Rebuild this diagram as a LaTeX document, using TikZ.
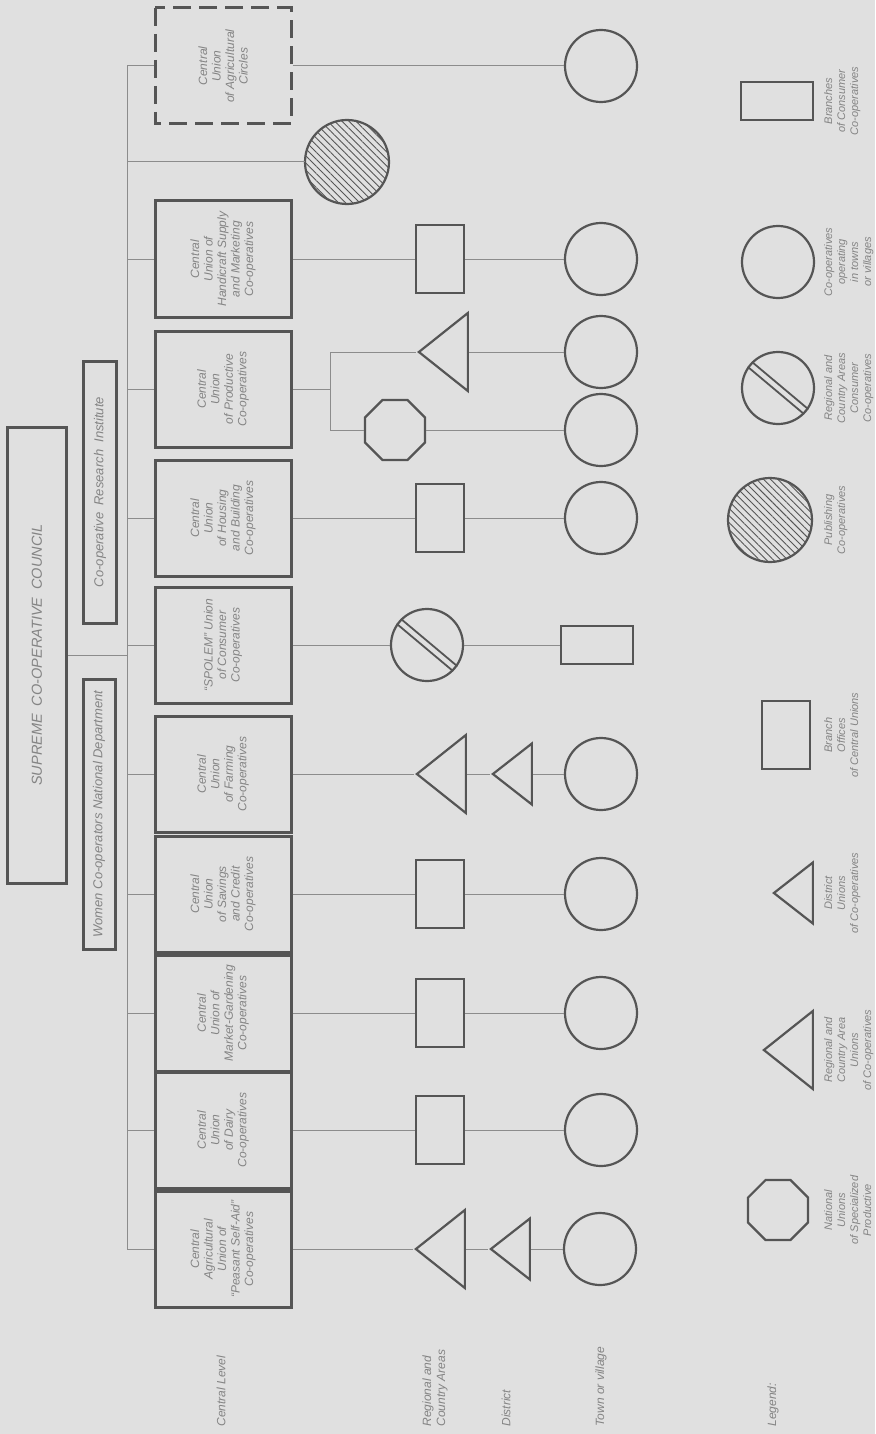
\documentclass[tikz,border=0pt]{standalone}
\usepackage{fontspec}
\setmainfont{Liberation Sans}
\usetikzlibrary{shapes.geometric,patterns.meta}
\definecolor{paperbg}{RGB}{224,224,224}
\definecolor{inkline}{RGB}{85,85,85}
\definecolor{wireline}{RGB}{140,140,140}
\definecolor{printtext}{RGB}{132,132,132}

\begin{document}
\begin{tikzpicture}[x=1pt,y=-1pt,
  wire/.style={draw=wireline,line width=1pt},
  union/.style={draw=inkline,line width=3pt,rotate=90,minimum width=116pt,minimum height=136pt,inner sep=2pt,align=center,text=printtext,font=\fontsize{12}{13.5}\selectfont\itshape},
  band/.style={draw=inkline,line width=3pt,rotate=90,inner sep=0pt,text=printtext,font=\fontsize{13}{15}\selectfont\itshape},
  branch/.style={draw=inkline,line width=2.5pt,minimum width=48pt,minimum height=68pt,inner sep=0pt},
  shop/.style={draw=inkline,line width=2.5pt,minimum width=72pt,minimum height=38pt,inner sep=0pt},
  town/.style={circle,draw=inkline,line width=2.2pt,minimum size=72pt,inner sep=0pt},
  consumer/.style={town},
  stripe/.style={draw=inkline,line width=1.8pt},
  publish/.style={circle,draw=inkline,line width=2.2pt,minimum size=84pt,inner sep=0pt,pattern={Lines[angle=-45,distance=5pt,line width=0.9pt]},pattern color=inkline},
  regional/.style={isosceles triangle,isosceles triangle stretches,shape border rotate=180,draw=inkline,line width=2.2pt,minimum width=78pt,minimum height=49pt,inner sep=0pt},
  district/.style={regional,minimum width=61pt,minimum height=39pt},
  national/.style={regular polygon,regular polygon sides=8,draw=inkline,line width=2.2pt,minimum size=65pt,inner sep=0pt},
  level/.style={rotate=90,anchor=west,align=left,text=printtext,font=\fontsize{12}{14}\selectfont\itshape},
  key/.style={rotate=90,anchor=north,align=center,inner sep=0pt,text=printtext,font=\fontsize{11}{13}\selectfont\itshape}]
  \fill[paperbg] (0,0) rectangle (875,1434);
  \useasboundingbox (0,0) rectangle (875,1434);

  \node[band,minimum width=456pt,minimum height=59pt,font=\fontsize{14.5}{16}\selectfont\itshape] (council) at (37,655) {SUPREME\ \ CO-OPERATIVE\ \ COUNCIL};
  \node[band,minimum width=262pt,minimum height=33pt] (institute) at (100,492) {Co-operative\ \ Research\ \ Institute};
  \node[band,minimum width=270pt,minimum height=32pt] (women) at (99,814) {Women Co-operators National Department};

  \coordinate (busTop) at (127,66);
  \coordinate (busBot) at (127,1249);
  \draw[wire] (busTop) -- (busBot);
  \draw[wire] (council) -- (council -| busTop);

  \node[union,dash pattern=on 18pt off 8pt] (boxA) at (223,66) {Central\\Union\\of Agricultural\\Circles};
  \node[union] (boxC) at (223,259) {Central\\Union of\\Handicraft Supply\\and Marketing\\Co-operatives};
  \node[union] (boxD) at (223,389) {Central\\Union\\of Productive\\Co-operatives};
  \node[union] (boxE) at (223,518) {Central\\Union\\of Housing\\and Building\\Co-operatives};
  \node[union] (boxF) at (223,645) {“SPOLEM” Union\\of Consumer\\Co-operatives};
  \node[union] (boxG) at (223,774) {Central\\Union\\of Farming\\Co-operatives};
  \node[union] (boxH) at (223,894) {Central\\Union\\of Savings\\and Credit\\Co-operatives};
  \node[union] (boxI) at (223,1013) {Central\\Union of\\Market-Gardening\\Co-operatives};
  \node[union] (boxJ) at (223,1130) {Central\\Union\\of Dairy\\Co-operatives};
  \node[union] (boxK) at (223,1249) {Central\\Agricultural\\Union of\\“Peasant Self-Aid”\\Co-operatives};
  \foreach \b in {A,C,D,E,F,G,H,I,J,K}
    \draw[wire] (box\b -| busTop) -- (box\b);

  \node[publish] (pubB) at (347,162) {};
  \draw[wire] (pubB -| busTop) -- (pubB);

  \node[town] (townA) at (601,66) {};
  \draw[wire] (boxA) -- (townA);

  \node[branch] (brC) at (440,259) {};
  \node[town] (townC) at (601,259) {};
  \draw[wire] (boxC) -- (brC) (brC) -- (townC);

  \coordinate (jD) at (330,389);
  \coordinate (jDa) at (330,352);
  \coordinate (jDb) at (330,430);
  \node[regional,anchor=apex] (rgD) at (416,352) {};
  \node[national] (natD) at (395,430) {};
  \node[town] (townDa) at (601,352) {};
  \node[town] (townDb) at (601,430) {};
  \draw[wire] (boxD) -- (jD) (jDa) -- (jDb);
  \draw[wire] (jDa) -- (rgD) (rgD) -- (townDa);
  \draw[wire] (jDb) -- (natD) (natD) -- (townDb);

  \node[branch] (brE) at (440,518) {};
  \node[town] (townE) at (601,518) {};
  \draw[wire] (boxE) -- (brE) (brE) -- (townE);

  \node[consumer] (conF) at (427,645) {};
  \draw[stripe] (conF.135) -- (conF.-35) (conF.145) -- (conF.-45);
  \node[shop] (shopF) at (597,645) {};
  \draw[wire] (boxF) -- (conF) (conF) -- (shopF);

  \node[regional,anchor=apex] (rgG) at (414,774) {};
  \node[district,anchor=apex] (dsG) at (490,774) {};
  \node[town] (townG) at (601,774) {};
  \draw[wire] (boxG) -- (rgG) (rgG) -- (dsG) (dsG) -- (townG);

  \node[branch] (brH) at (440,894) {};
  \node[town] (townH) at (601,894) {};
  \draw[wire] (boxH) -- (brH) (brH) -- (townH);

  \node[branch] (brI) at (440,1013) {};
  \node[town] (townI) at (601,1013) {};
  \draw[wire] (boxI) -- (brI) (brI) -- (townI);

  \node[branch] (brJ) at (440,1130) {};
  \node[town] (townJ) at (601,1130) {};
  \draw[wire] (boxJ) -- (brJ) (brJ) -- (townJ);

  \node[regional,anchor=apex] (rgK) at (413,1249) {};
  \node[district,anchor=apex] (dsK) at (488,1249) {};
  \node[town] (townK) at (600,1249) {};
  \draw[wire] (boxK) -- (rgK) (rgK) -- (dsK) (dsK) -- (townK);

  \node[level] (lvCentral) at (221,1430) {Central Level};
  \node[level] (lvRegional) at (435,1430) {Regional and\\Country Areas};
  \node[level] (lvDistrict) at (506,1430) {District};
  \node[level] (lvTown) at (601,1430) {Town or village};
  \node[level] (lvLegend) at (773,1430) {Legend:};

  \node[shop] (shopL) at (777,101) {};
  \node[key] (keyShop) at (824,101) {Branches\\of Consumer\\Co-operatives};
  \node[town] (townL) at (778,262) {};
  \node[key] (keyTown) at (824,262) {Co-operatives\\operating\\in towns\\or villages};
  \node[consumer] (conL) at (778,388) {};
  \draw[stripe] (conL.135) -- (conL.-35) (conL.145) -- (conL.-45);
  \node[key] (keyCon) at (824,388) {Regional and\\Country Areas\\Consumer\\Co-operatives};
  \node[publish] (pubL) at (770,520) {};
  \node[key] (keyPub) at (824,520) {Publishing\\Co-operatives};
  \node[branch] (brL) at (786,735) {};
  \node[key] (keyBr) at (824,735) {Branch\\Offices\\of Central Unions};
  \node[district,anchor=apex] (dsL) at (771,893) {};
  \node[key] (keyDs) at (824,893) {District\\Unions\\of Co-operatives};
  \node[regional,anchor=apex] (rgL) at (761,1050) {};
  \node[key] (keyRg) at (824,1050) {Regional and\\Country Area\\Unions\\of Co-operatives};
  \node[national] (natL) at (778,1210) {};
  \node[key] (keyNat) at (824,1210) {National\\Unions\\of Specialized\\Productive};
\end{tikzpicture}
\end{document}
